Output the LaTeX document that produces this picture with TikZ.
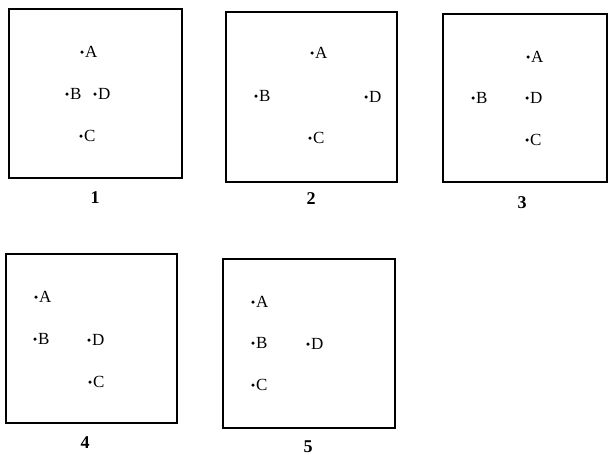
\documentclass[tikz,border=0pt]{standalone}
\usepackage{fontspec}
\setmainfont{Liberation Serif}
\usetikzlibrary{positioning}

\begin{document}
\begin{tikzpicture}[x=1pt, y=-1pt, every node/.style={font=\fontsize{17}{19}\selectfont}]
\tikzset{pt/.style={circle, fill=black, inner sep=0pt, minimum size=3.5pt},
  lbl/.style={inner sep=1pt},
  frame/.style={draw, line width=1.5pt},
  num/.style={font=\fontsize{18}{20}\selectfont\bfseries}}
\useasboundingbox (0,0) rectangle (609,459);
% frames and numbers
\draw[frame] (9,9) rectangle (182,178);
\draw[frame] (226,12) rectangle (397,182);
\draw[frame] (443,14) rectangle (607,182);
\draw[frame] (6,254) rectangle (177,423);
\draw[frame] (223,259) rectangle (395,428);
\node[num] (n1) at (95,198) {1};
\node[num] (n2) at (311,199) {2};
\node[num] (n3) at (522,203) {3};
\node[num] (n4) at (85,443) {4};
\node[num] (n5) at (308,447) {5};
% points: box/letter/x/y
\foreach \b/\l/\x/\y in {1/A/82/52, 1/B/67/94, 1/D/95/94, 1/C/81/136,
  2/A/312/53, 2/B/256/96, 2/D/366/97, 2/C/310/138,
  3/A/528/57, 3/B/473/98, 3/D/527/98, 3/C/527/140,
  4/A/36/297, 4/B/35/339, 4/D/89/340, 4/C/90/382,
  5/A/253/302, 5/B/253/343, 5/D/308/344, 5/C/253/385}
  \node[pt, label={[lbl, name=t\b\l]east:\l}] (p\b\l) at (\x,\y) {};
\end{tikzpicture}
\end{document}
